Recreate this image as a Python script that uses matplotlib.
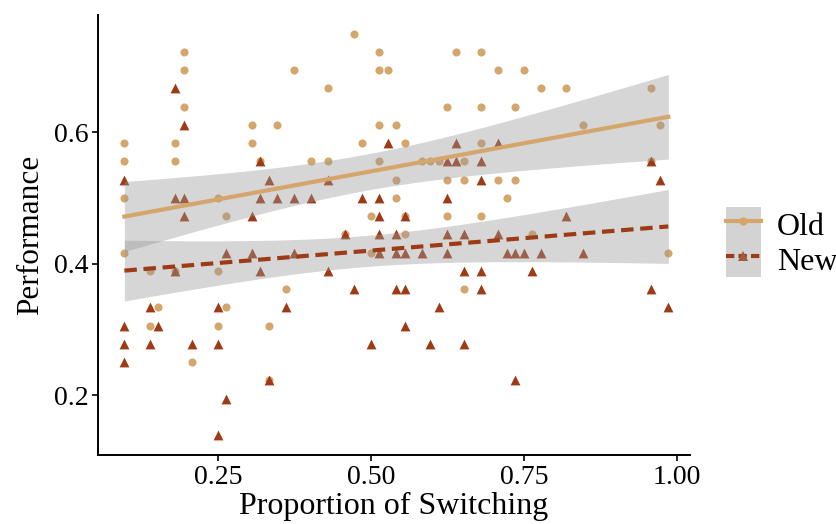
import numpy as np
import matplotlib
matplotlib.use("Agg")
import matplotlib.pyplot as plt
from matplotlib.lines import Line2D
from matplotlib.patches import Patch
from matplotlib.legend_handler import HandlerTuple

plt.rcParams['font.family'] = ['Liberation Serif', 'DejaVu Serif']

# proportion of switching (in 72nds) and performance (in 36ths)
old_x = [14, 14, 14, 7, 7, 7, 13, 13, 22, 22, 25, 23, 18, 19,
         7, 10, 13, 18, 26, 11, 19, 10, 18, 24, 15, 24,
         34, 37, 46, 49, 27, 37, 38, 31, 45, 49, 37, 39, 35, 40, 49,
         29, 31, 37, 42, 43, 44, 47, 39, 45, 47, 39, 36, 40, 45, 49, 33, 40,
         36, 47,
         51, 54, 56, 59, 69, 53, 61, 70, 69, 51, 53, 52, 55, 71]
old_y = [26, 25, 23, 21, 20, 18, 21, 20, 22, 21, 22, 20, 18, 17,
         15, 14, 14, 14, 13, 12, 12, 11, 11, 11, 9, 8,
         27, 26, 26, 26, 25, 25, 25, 24, 23, 23, 22, 22, 21, 21, 21,
         20, 20, 20, 20, 20, 20, 20, 19, 19, 19, 18, 17, 17, 17, 17, 16, 16,
         15, 13,
         25, 25, 24, 24, 24, 23, 22, 22, 20, 19, 19, 18, 16, 15]

new_x = [13, 14, 7, 23, 24, 13, 14, 14, 23, 25, 22,
         19, 22, 13, 23, 10, 18, 26, 7, 11, 7, 10, 15, 18, 7, 24, 19, 18,
         38, 46, 49, 45, 46, 31, 49, 27, 29, 35, 37, 45, 37, 40, 33, 37, 39, 45, 47,
         27, 37, 39, 40, 42, 45, 31, 47, 49, 34, 39, 40, 49, 44, 40, 36, 43, 47,
         51, 69, 70, 59, 51,
         52, 53, 54, 56, 61, 55, 69, 71, 53]
new_y = [24, 22, 19, 20, 19, 18, 18, 17, 18, 18, 17,
         15, 15, 14, 14, 12, 12, 12, 11, 11, 10, 10, 10, 10, 9, 8, 7, 5,
         21, 21, 20, 20, 20, 19, 19, 18, 18, 18, 18, 18, 17, 17, 16, 16, 16, 16, 16,
         15, 15, 15, 15, 15, 15, 14, 14, 14, 13, 13, 13, 13, 12, 11, 10, 10, 10,
         21, 20, 19, 17, 16,
         15, 15, 15, 15, 15, 14, 13, 12, 8]

old_x = np.array(old_x) / 72
old_y = np.array(old_y) / 36
new_x = np.array(new_x) / 72
new_y = np.array(new_y) / 36

c_old = "#D4A66C"
c_new = "#9E3B17"
band = "#999999"


def lm_fit(x, y):
    n = len(x)
    b, a = np.polyfit(x, y, 1)
    xs = np.linspace(x.min(), x.max(), 80)
    fit = a + b * xs
    resid = y - (a + b * x)
    s = np.sqrt(np.sum(resid ** 2) / (n - 2))
    se = s * np.sqrt(1 / n + (xs - x.mean()) ** 2 / np.sum((x - x.mean()) ** 2))
    return xs, fit, 1.99 * se


fig = plt.figure(figsize=(8.37, 5.24), dpi=100)
ax = fig.add_axes([0.117, 0.132, 0.707, 0.839])

ax.scatter(old_x, old_y, s=34, marker="o", color=c_old, linewidths=0, zorder=2)
ax.scatter(new_x, new_y, s=50, marker="^", color=c_new, linewidths=0, zorder=2)

for x, y, col, ls in [(old_x, old_y, c_old, "-"), (new_x, new_y, c_new, (0, (3, 1.6)))]:
    xs, fit, ci = lm_fit(x, y)
    ax.fill_between(xs, fit - ci, fit + ci, color=band, alpha=0.4, linewidth=0, zorder=3)
    ax.plot(xs, fit, color=col, lw=3, ls=ls, zorder=4)

ax.set_xlim(0.054, 1.021)
ax.set_ylim(0.109, 0.778)
ax.set_xticks([0.25, 0.5, 0.75, 1.0])
ax.set_xticklabels(["0.25", "0.50", "0.75", "1.00"])
ax.set_yticks([0.2, 0.4, 0.6])
ax.set_yticklabels(["0.2", "0.4", "0.6"])
ax.tick_params(labelsize=20, length=4, width=1.2, color="black", labelcolor="black", pad=3)
for side in ["top", "right"]:
    ax.spines[side].set_visible(False)
for side in ["left", "bottom"]:
    ax.spines[side].set_linewidth(1.4)

ax.set_xlabel("Proportion of Switching", fontsize=23, labelpad=2)
ax.set_ylabel("Performance", fontsize=22.5, labelpad=6)

h_old = (Patch(facecolor="#D3D3D3", edgecolor="none"),
         Line2D([], [], color=c_old, lw=3, marker="o", markersize=6, markeredgewidth=0))
h_new = (Patch(facecolor="#D3D3D3", edgecolor="none"),
         Line2D([], [], color=c_new, lw=3, ls=(0, (2, 1)), marker="^", markersize=7,
                markerfacecolor="#A05A40", markeredgewidth=0))
ax.legend([h_old, h_new], ["Old", "New"], handler_map={tuple: HandlerTuple(ndivide=1, pad=0)},
          loc="center left", bbox_to_anchor=(1.061, 0.484), frameon=False, fontsize=23,
          handlelength=1.1, handleheight=1.3, labelspacing=0.0, handletextpad=0.5,
          borderpad=0, borderaxespad=0)

fig.savefig("out.png", dpi=100)
